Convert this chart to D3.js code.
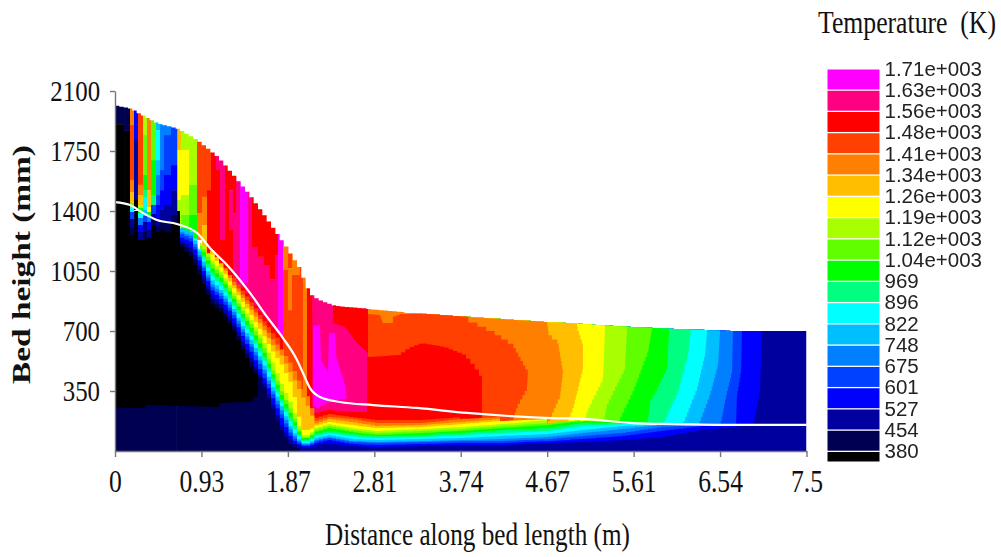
<!DOCTYPE html>
<html>
<head>
<meta charset="utf-8">
<script src="https://cdnjs.cloudflare.com/ajax/libs/d3/7.8.5/d3.min.js"></script>
<style>
  html, body { margin: 0; padding: 0; background: #fff; }
  svg { display: block; }
</style>
</head>
<body>
<div id="chart"></div>
<script>
// legend, hottest first
const tempLabels = ["1.71e+003", "1.63e+003", "1.56e+003", "1.48e+003", "1.41e+003", "1.34e+003", "1.26e+003", "1.19e+003", "1.12e+003", "1.04e+003", "969", "896", "822", "748", "675", "601", "527", "454", "380"];
const bandColors = ["#ff00ff", "#ff0080", "#ff0000", "#ff4000", "#ff8000", "#ffbf00", "#ffff00", "#a8ff00", "#5fff00", "#00ff00", "#00ff80", "#00ffff", "#00bfff", "#0080ff", "#0040ff", "#0000ff", "#00009f", "#000050", "#000000"];

const xTickValues = [0, 0.9375, 1.875, 2.8125, 3.75, 4.6875, 5.625, 6.5625, 7.5];
const xTickLabels = ["0", "0.93", "1.87", "2.81", "3.74", "4.67", "5.61", "6.54", "7.5"];
const yTickValues = [350, 700, 1050, 1400, 1750, 2100];

// [m, mm]
const bedTop = [[0, 2014], [0.163, 1995], [0.249, 1966], [0.434, 1913], [0.672, 1878], [0.9, 1802], [1.106, 1709], [1.28, 1598], [1.464, 1476], [1.649, 1336], [1.822, 1202], [1.974, 1073], [2.093, 916], [2.191, 881], [2.364, 846], [2.733, 828], [3.091, 811], [3.818, 782], [4.685, 752], [4.859, 747], [5.618, 723], [6.052, 712], [6.703, 700], [7.5, 700]];
const whiteLine = [[0, 1452], [0.163, 1435], [0.304, 1388], [0.456, 1347], [0.672, 1324], [0.889, 1272], [1.03, 1184], [1.215, 1085], [1.464, 922], [1.649, 782], [1.822, 659], [1.974, 531], [2.039, 455], [2.115, 367], [2.223, 315], [2.44, 286], [2.798, 268], [3.275, 251], [3.818, 222], [4.718, 192], [5.076, 187], [5.618, 163], [6.052, 157], [6.703, 152], [7.5, 152]];

// freeboard contours right of the drop: each band fills everything left of its curve
const field15 = [[7.017, 735], [6.996, 373], [6.92, 152]];
const field14 = [[6.8, 706], [6.79, 472], [6.746, 338], [6.735, 152]];
const field13 = [[6.703, 706], [6.692, 472], [6.638, 356], [6.562, 152]];
const field12 = [[6.562, 706], [6.54, 513], [6.453, 338], [6.323, 152]];
const field11 = [[6.421, 706], [6.399, 572], [6.312, 373], [6.15, 152]];
const field10 = [[6.247, 717], [6.215, 572], [6.106, 356], [5.933, 152]];
const field9 = [[6.009, 717], [5.987, 490], [5.803, 297], [5.77, 152]];
const field8 = [[5.824, 723], [5.781, 589], [5.618, 356], [5.434, 152]];
const field7 = [[5.553, 723], [5.531, 490], [5.336, 280], [5.293, 152]];
const field6 = [[5.315, 729], [5.293, 432], [5.119, 239], [5.076, 152]];
const field5 = [[5.011, 735], [5.076, 630], [5.076, 490], [4.967, 257], [4.881, 152]];
const field4 = [[4.685, 764], [4.707, 688], [4.805, 647], [4.859, 472], [4.826, 327], [4.751, 239], [4.675, 152]];
const field3 = [[3.829, 776], [4.1, 706], [4.317, 630], [4.479, 472], [4.468, 373], [4.36, 268], [4.295, 152]];
const fieldCurves = [[16, [[7.5, 800], [7.5, 0]]], [15, field15], [14, field14], [13, field13], [12, field12], [11, field11], [10, field10], [9, field9], [8, field8], [7, field7], [6, field6], [5, field5], [4, field4], [3, field3]];

// single patches in the freeboard
const pinkField = [[2.137, 950], [2.744, 950], [2.744, 150], [2.137, 150]];
const redPatch = [[2.364, 900], [2.744, 900], [2.744, 572], [2.625, 630], [2.495, 723], [2.364, 747]];
const magentaPatch = [[2.148, 729], [2.223, 735], [2.234, 531], [2.31, 461], [2.321, 688], [2.386, 688], [2.397, 554], [2.495, 385], [2.516, 309], [2.299, 280], [2.191, 251], [2.148, 268]];
const pinkUnderLine = [[2.495, 297], [2.798, 268], [2.798, 228], [2.495, 228]];
const orangePatch = [[2.744, 900], [2.744, 799], [2.874, 793], [2.906, 747], [3.014, 747], [3.014, 782], [3.155, 811], [3.155, 900]];
const redCore = [[2.733, 548], [3.058, 560], [3.167, 601], [3.308, 630], [3.557, 607], [3.774, 560], [3.883, 490], [3.98, 414]];

// vertical stripes: [x0, x1, [[band, lower edge in mm], ...]]
const midStrips = [
  [0.672, 0.716, [[5, 1756], [6, 1464], [7, 1301]]],
  [0.716, 0.803, [[7, 1756], [6, 1493], [7, 1377], [8, 1301], [9, 1260]]],
  [0.803, 0.889, [[7, 1552], [8, 1377], [9, 1231]]],
  [0.889, 0.944, [[3, 1388], [4, 1231]]],
  [0.944, 0.998, [[3, 1482], [4, 1318], [5, 1114]]],
  [0.998, 1.041, [[3, 1522], [2, 1114]]],
  [1.041, 1.095, [[2, 1056]]],
  [1.095, 1.139, [[1, 1639], [2, 968]]],
  [1.139, 1.193, [[1, 1231], [2, 939]]],
  [1.193, 1.236, [[2, 881]]],
  [1.236, 1.28, [[2, 1522], [1, 1289], [2, 881]]],
  [1.28, 1.312, [[2, 1388], [1, 706]]],
  [1.312, 1.356, [[1, 706]]],
  [1.356, 1.443, [[0, 980], [1, 589]]],
  [1.443, 1.486, [[1, 531]]],
  [1.486, 1.551, [[2, 1190], [1, 298]]],
  [1.551, 1.616, [[2, 1132], [1, 298]]],
  [1.616, 1.681, [[2, 1085], [1, 298]]],
  [1.681, 1.735, [[2, 1003], [1, 298]]],
  [1.735, 1.768, [[2, 1143], [1, 298]]],
  [1.768, 1.822, [[0, 677], [2, 298]]],
  [1.822, 1.876, [[4, 1056], [3, 0]]],
  [1.876, 1.92, [[3, 1067], [4, 822], [3, 0]]],
  [1.92, 2.006, [[4, 1027], [3, 0]]],
  [2.006, 2.039, [[3, 0]]],
  [2.039, 2.082, [[4, 0]]],
  [2.082, 2.137, [[2, 0]]]
];
const leftStrips = [
  [0, 0.098, [[17, 1907], [18, 1172]]],
  [0.098, 0.163, [[17, 1867], [18, 1172]]],
  [0.163, 0.206, [[4, 1902], [3, 1581], [4, 1511], [5, 1447], [8, 1417], [11, 1394], [14, 1353], [16, 1301], [17, 1260]]],
  [0.206, 0.249, [[15, 1814], [16, 1464], [18, 1406]]],
  [0.249, 0.304, [[3, 1552], [4, 1493], [5, 1435], [7, 1417], [9, 1388], [11, 1359], [13, 1318], [15, 1277], [16, 1231]]],
  [0.304, 0.347, [[7, 1843], [8, 1610], [9, 1522], [10, 1482], [11, 1406], [12, 1371], [14, 1336], [16, 1277], [17, 1231]]],
  [0.347, 0.39, [[4, 1522], [5, 1423], [6, 1394], [9, 1371], [13, 1336], [15, 1289], [16, 1242]]],
  [0.39, 0.445, [[8, 1697], [9, 1493], [10, 1435], [14, 1382], [16, 1347], [17, 1312]]],
  [0.445, 0.488, [[12, 1872], [11, 1697], [12, 1610], [13, 1493], [14, 1435], [15, 1359], [16, 1307], [17, 1277]]],
  [0.488, 0.531, [[12, 1902], [13, 1639], [14, 1522], [15, 1406], [16, 1336], [17, 1289]]],
  [0.531, 0.607, [[13, 1843], [14, 1610], [15, 1435], [16, 1330], [17, 1277]]],
  [0.607, 0.672, [[14, 1668], [15, 1522], [16, 1377], [17, 1324]]]
];

// isotherm heights (mm) at these stations (m); a band fills everything below its row
const isoStations = [0.672, 0.813, 0.922, 1.03, 1.139, 1.247, 1.356, 1.464, 1.573, 1.681, 1.79, 1.898, 2.006, 2.093, 2.148, 2.299, 2.549, 2.82, 3.308, 3.742, 4.176, 4.685, 5.043, 5.477, 5.911, 6.345, 6.779, 6.941];
const _ = null;
const iso2 = [_, _, _, _, _, _, 957, 881, 799, 729, 659, _, _, _, 222, 239, 228, 228, _, _, _, _, _, _, _, _, _, _];
const iso3 = [_, _, _, _, _, 1027, 939, 863, 776, 694, 630, _, _, _, 192, 216, 198, 181, 181, 198, _, _, _, _, _, _, _, _];
const iso4 = [_, _, _, _, 1097, 1003, 916, 840, 752, 659, 589, 502, 373, 298, 175, 198, 187, 163, 163, 187, 198, _, _, _, _, _, _, _];
const iso5 = [_, _, _, 1172, 1085, 986, 898, 817, 729, 624, 554, 443, 327, 239, 157, 187, 169, 146, 152, 169, 187, _, _, _, _, _, _, _];
const iso6 = [_, _, _, 1149, 1062, 968, 875, 787, 694, 589, 502, 385, 122, 122, 146, 169, 152, 134, 140, 157, 175, 187, _, _, _, _, _, _];
const iso7 = [_, _, 1213, 1114, 1038, 945, 846, 758, 659, 531, 385, 268, 93, 93, 134, 157, 134, 117, 128, 140, 157, 181, _, _, _, _, _, _];
const iso8 = [_, _, 1196, 1091, 1021, 927, 822, 735, 636, 484, 344, 228, 82, 82, 122, 146, 122, 105, 117, 128, 146, 163, 181, _, _, _, _, _];
const iso9 = [_, _, 1178, 1067, 1003, 910, 805, 712, 607, 461, 321, 204, 76, 76, 111, 134, 111, 93, 105, 117, 134, 152, 175, 169, _, _, _, _];
const iso10 = [_, _, 1161, 1044, 980, 892, 782, 688, 583, 438, 298, 175, 64, 64, 99, 117, 99, 87, 93, 105, 122, 134, 163, 163, _, _, _, _];
const iso11 = [_, 1283, 1143, 1021, 957, 869, 758, 665, 560, 414, 280, 152, 58, 58, 87, 105, 87, 76, 82, 93, 105, 117, 146, 157, 157, _, _, _];
const iso12 = [1307, 1272, 1126, 997, 933, 852, 735, 642, 531, 385, 257, 122, 47, 47, 76, 93, 70, 64, 70, 76, 87, 99, 122, 146, 152, _, _, _];
const iso13 = [1283, 1254, 1102, 974, 916, 834, 717, 618, 507, 362, 233, 105, 41, 41, 64, 82, 58, 52, 58, 64, 70, 82, 105, 128, 152, 152, _, _];
const iso14 = [1272, 1237, 1091, 957, 898, 817, 700, 601, 484, 344, 210, 87, 35, 35, 58, 76, 52, 47, 52, 58, 58, 70, 87, 105, 140, 152, _, _];
const iso15 = [1254, 1219, 1073, 939, 881, 799, 677, 572, 455, 321, 187, 70, 29, 29, 47, 64, 41, 35, 41, 47, 47, 58, 70, 87, 117, 146, 146, _];
const iso16 = [1237, 1184, 1044, 910, 852, 770, 647, 537, 426, 286, 146, 47, 23, 17, 35, 47, 29, 23, 29, 35, 35, 47, 52, 64, 82, 122, 146, 146];
const iso17 = [1225, 1161, 1027, 887, 828, 752, 624, 513, 408, 257, 117, 29, 12, _, _, _, _, _, _, _, _, _, _, _, _, _, _, _];
const isoRows = [[2, iso2], [3, iso3], [4, iso4], [5, iso5], [6, iso6], [7, iso7], [8, iso8], [9, iso9], [10, iso10], [11, iso11], [12, iso12], [13, iso13], [14, iso14], [15, iso15], [16, iso16], [17, iso17]];

// unburnt core of the bed
const floorEdge = [[0, 400], [0.672, 400]];
const blackTop = [[0, 1400], [0.66, 1400], [0.672, 1213], [0.813, 1126], [0.922, 997], [1.03, 857], [1.139, 805], [1.247, 729], [1.356, 601], [1.464, 484], [1.54, 432], [1.551, 338]];
const blackBottom = [[0, 251], [0.304, 251], [0.31, 268], [1.085, 257], [1.09, 280], [1.443, 286], [1.551, 338]];

const width = 1001;
const height = 557;
const cellW = 0.047; // mesh column width

const x = d3.scaleLinear().domain([0, 7.5]).range([115, 806.5]);
const y = d3.scaleLinear().domain([0, 2100]).range([451, 91]);

const svg = d3.select("#chart").append("svg")
  .attr("width", width)
  .attr("height", height)
  .style("background", "#fff");

// mesh columns between the first and last x of a curve
function columns(x0, x1) {
  const cells = d3.range(0, 7.5 + cellW, cellW).filter((c) => c > x0 && c < x1);
  return [x0].concat(cells, [x1]);
}

function heightAt(points) {
  return d3.scaleLinear().domain(points.map((p) => p[0])).range(points.map((p) => p[1])).clamp(true);
}

function underCurve(points, bottom) {
  const h = heightAt(points);
  return d3.area()
    .x((c) => x(c))
    .y0((c) => y(bottom === undefined ? 0 : bottom(c)))
    .y1((c) => y(h(c)))
    .curve(d3.curveStepAfter)(columns(points[0][0], points[points.length - 1][0]));
}

function leftOfCurve(points) {
  const h = d3.scaleLinear().domain(points.map((p) => p[1])).range(points.map((p) => p[0])).clamp(true);
  const rows = d3.range(0, 825, 25);
  return d3.area()
    .y((m) => y(m))
    .x0(x(2.137))
    .x1((m) => x(h(m)))
    .curve(d3.curveStepAfter)(rows);
}

const polygon = d3.line().x((d) => x(d[0])).y((d) => y(d[1]));

svg.append("clipPath").attr("id", "bed")
  .append("path")
  .attr("d", underCurve(bedTop));

const plot = svg.append("g").style("filter", "blur(0.6px)");
const bed = plot.append("g").attr("clip-path", "url(#bed)");

function drawStrips(strips) {
  strips.forEach((s) => {
    let top = 2100;
    s[2].forEach((seg) => {
      bed.append("rect")
        .attr("x", x(s[0]))
        .attr("width", x(s[1]) - x(s[0]) + 0.3)
        .attr("y", y(top))
        .attr("height", y(seg[1]) - y(top))
        .attr("fill", bandColors[seg[0]]);
      top = seg[1];
    });
  });
}

// freeboard right of the drop
fieldCurves.forEach((f) => {
  bed.append("path").attr("d", leftOfCurve(f[1])).attr("fill", bandColors[f[0]]);
});
bed.append("path").attr("d", polygon(pinkField) + "Z").attr("fill", bandColors[1]);
bed.append("path").attr("d", polygon(redPatch) + "Z").attr("fill", bandColors[2]);
bed.append("path").attr("d", polygon(magentaPatch) + "Z").attr("fill", bandColors[0]);
bed.append("path").attr("d", polygon(pinkUnderLine) + "Z").attr("fill", bandColors[1]);
bed.append("path").attr("d", underCurve(redCore)).attr("fill", bandColors[2]);
bed.append("path").attr("d", polygon(orangePatch) + "Z").attr("fill", bandColors[4]);

drawStrips(midStrips);

// isotherms, hot to cold
isoRows.forEach((row) => {
  let run = [];
  const flush = () => {
    if (run.length > 1) bed.append("path").attr("d", underCurve(run)).attr("fill", bandColors[row[0]]);
    run = [];
  };
  row[1].forEach((v, i) => {
    if (v === null) flush();
    else run.push([isoStations[i], v]);
  });
  flush();
});

bed.append("path").attr("d", underCurve(floorEdge)).attr("fill", bandColors[17]);
bed.append("path")
  .attr("d", underCurve(blackTop, heightAt(blackBottom)))
  .attr("fill", bandColors[18]);

drawStrips(leftStrips);

plot.append("path")
  .attr("d", d3.line().x((d) => x(d[0])).y((d) => y(d[1])).curve(d3.curveMonotoneX)(whiteLine))
  .attr("fill", "none")
  .attr("stroke", "#fff")
  .attr("stroke-width", 2.2);

// axes
const xAxis = svg.append("g")
  .attr("transform", `translate(0,${y(0)})`)
  .call(d3.axisBottom(x).tickValues(xTickValues).tickFormat((d, i) => xTickLabels[i]).tickSize(6).tickSizeOuter(0));
const yAxis = svg.append("g")
  .attr("transform", `translate(${x(0)},0)`)
  .call(d3.axisLeft(y).tickValues(yTickValues).tickFormat(d3.format("d")).tickSize(5).tickSizeOuter(0));

[xAxis, yAxis].forEach((a) => {
  a.selectAll("path, line").attr("stroke", "#777").attr("stroke-width", 1.4);
  a.selectAll("text").attr("font-family", "'Liberation Serif', serif").attr("fill", "#111");
});
xAxis.selectAll("text")
  .attr("font-size", 32)
  .attr("y", 41)
  .attr("dy", 0)
  .attr("transform", "scale(0.8,1)");
yAxis.selectAll("text")
  .attr("font-size", 30)
  .attr("x", -18)
  .attr("transform", "scale(0.83,1)");

// squeeze a title to the width it has in the figure
function fitTitle(text, transform, targetWidth, size, weight) {
  const t = svg.append("text")
    .attr("font-family", "'Liberation Serif', serif")
    .attr("font-size", size)
    .attr("font-weight", weight)
    .attr("fill", "#111")
    .style("white-space", "pre")
    .text(text);
  const k = targetWidth / t.node().getComputedTextLength();
  t.attr("transform", `${transform} scale(${k},1)`);
}

fitTitle("Distance along bed length (m)", "translate(325,545)", 305, 31, "normal");
fitTitle("Bed height (mm)", "translate(30,384) rotate(-90)", 239, 26, "bold");
fitTitle("Temperature  (K)", "translate(818,33)", 178, 32, "normal");

// legend
const legendY = d3.scaleLinear().domain([0, tempLabels.length - 1]).range([69.5, 452]);
const legend = svg.append("g").style("filter", "blur(0.3px)");

legend.selectAll("rect")
  .data(bandColors)
  .join("rect")
  .attr("x", 827.5)
  .attr("width", 52)
  .attr("y", (d, i) => legendY(i))
  .attr("height", (d, i) => (i === bandColors.length - 1 ? 9.5 : legendY(1) - legendY(0) - 1.3))
  .attr("fill", (d) => d);

legend.selectAll("text")
  .data(tempLabels)
  .join("text")
  .attr("x", 884.5)
  .attr("y", (d, i) => legendY(i) + 6)
  .attr("font-family", "'Liberation Sans', sans-serif")
  .attr("font-size", 20.5)
  .attr("fill", "#222")
  .text((d) => d);
</script>
</body>
</html>
